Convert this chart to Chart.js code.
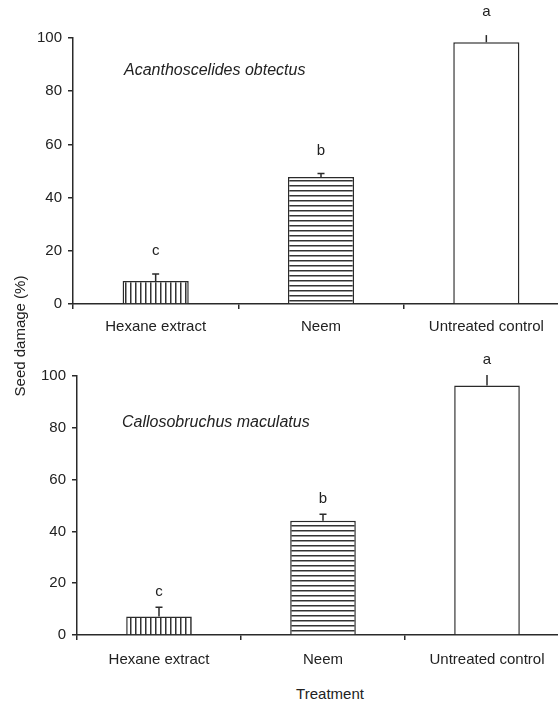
<!DOCTYPE html>
<html>
<head>
    <style>
        body {
            margin: 0;
            padding: 0;
            background: #fff;
            font-family: "Liberation Sans", Arial, sans-serif;
            color: #222;
        }

        .wrap {
            position: relative;
            width: 558px;
            height: 701px;
            overflow: hidden;
        }

        .wrap canvas {
            position: absolute;
            left: 0;
        }

        .species {
            position: absolute;
            font-size: 16px;
            line-height: 18px;
            font-style: italic;
            white-space: nowrap;
        }

        .axis-title {
            position: absolute;
            font-size: 15px;
            line-height: 18px;
            text-align: center;
            white-space: nowrap;
        }
    </style>
    <title>Seed damage</title>
    <script src="https://cdn.jsdelivr.net/npm/chart.js@4.4.0/dist/chart.umd.min.js"></script>
</head>
<body>
    <div class="wrap">
        <canvas id="top-chart" width="575" height="340" style="top:0"></canvas>
        <canvas id="bottom-chart" width="575" height="340" style="top:340px"></canvas>

        <div class="species" style="left:124px; top:61px">Acanthoscelides obtectus</div>
        <div class="species" style="left:122px; top:413px">Callosobruchus maculatus</div>

        <div class="axis-title" style="left:-80px; top:327px; width:200px; transform:rotate(-90deg)">Seed damage (%)</div>
        <div class="axis-title" style="left:230px; top:685px; width:200px">Treatment</div>
    </div>

  <script>
    const treatments = ['Hexane extract', 'Neem', 'Untreated control'];
    const yTicks = [0, 20, 40, 60, 80, 100];

    // Acanthoscelides obtectus (top)
    const acanthoDamage = [8.6, 47.7, 98.4];
    const acanthoError = [2.7, 1.4, 2.7];
    const acanthoLetters = ['c', 'b', 'a'];

    // Callosobruchus maculatus (bottom)
    const callosoDamage = [7.1, 44.1, 96.3];
    const callosoError = [3.6, 2.5, 4.1];
    const callosoLetters = ['c', 'b', 'a'];

    const ink = '#2a2a2a';
    Chart.defaults.font.family = '"Liberation Sans", Arial, sans-serif';
    Chart.defaults.font.size = 15;
    Chart.defaults.color = '#222';

    // hatch fills
    function hatch(vertical) {
      const c = document.createElement('canvas');
      c.width = 5;
      c.height = 5;
      const g = c.getContext('2d');
      g.fillStyle = '#fff';
      g.fillRect(0, 0, 5, 5);
      g.fillStyle = '#333';
      if (vertical) g.fillRect(0, 0, 1.5, 5);
      else g.fillRect(0, 0, 5, 1.5);
      return g.createPattern(c, 'repeat');
    }

    // error bars and significance letters
    const errorBars = {
      id: 'errorBars',
      afterDatasetsDraw(chart, args, opts) {
        const ctx = chart.ctx;
        const y = chart.scales.y;
        const values = chart.data.datasets[0].data;
        ctx.save();
        ctx.strokeStyle = ink;
        ctx.lineWidth = 1.5;
        ctx.fillStyle = '#222';
        ctx.font = '15px "Liberation Sans", Arial, sans-serif';
        ctx.textAlign = 'center';
        ctx.textBaseline = 'middle';
        chart.getDatasetMeta(0).data.forEach((bar, i) => {
          const hi = values[i] + opts.errors[i];
          const top = y.getPixelForValue(hi);
          ctx.beginPath();
          ctx.moveTo(bar.x, bar.y);
          ctx.lineTo(bar.x, top);
          if (hi <= y.max) {
            ctx.moveTo(bar.x - 3.5, top);
            ctx.lineTo(bar.x + 3.5, top);
          }
          ctx.stroke();
          ctx.fillText(opts.letters[i], bar.x, top - opts.gap);
        });
        ctx.restore();
      }
    };

    function makeChart(id, values, errors, letters, box) {
      const ctx = document.getElementById(id).getContext('2d');
      return new Chart(ctx, {
        type: 'bar',
        data: {
          labels: treatments,
          datasets: [{
            data: values,
            backgroundColor: [hatch(true), hatch(false), '#fff'],
            borderColor: ink,
            borderWidth: 1.5,
            barPercentage: 0.4,
            categoryPercentage: 1
          }]
        },
        options: {
          responsive: false,
          animation: false,
          layout: {
            padding: { top: box.top, right: box.right, left: 0, bottom: 0 }
          },
          plugins: {
            legend: { display: false },
            tooltip: { enabled: false },
            errorBars: { errors: errors, letters: letters, gap: box.gap }
          },
          scales: {
            x: {
              grid: {
                offset: true,
                drawOnChartArea: false,
                tickLength: 5,
                color: ink,
                lineWidth: 1.5
              },
              border: { display: true, color: ink, width: 1.5 },
              ticks: { padding: box.labelPad, maxRotation: 0, color: '#222' },
              afterFit(scale) { scale.height = box.xHeight; }
            },
            y: {
              min: 0,
              max: 100,
              afterBuildTicks(scale) { scale.ticks = yTicks.map(v => ({ value: v })); },
              grid: {
                drawOnChartArea: false,
                tickLength: 5,
                color: ink,
                lineWidth: 1.5
              },
              border: { display: true, color: ink, width: 1.5 },
              ticks: { padding: 6, color: '#222' },
              afterFit(scale) { scale.width = box.yWidth; }
            }
          }
        },
        plugins: [errorBars]
      });
    }

    makeChart('top-chart', acanthoDamage, acanthoError, acanthoLetters,
      { top: 38, right: 6, yWidth: 73, xHeight: 36, labelPad: 9, gap: 23 });
    makeChart('bottom-chart', callosoDamage, callosoError, callosoLetters,
      { top: 36, right: 6, yWidth: 77, xHeight: 45, labelPad: 11, gap: 15 });
  </script>
</body>
</html>
